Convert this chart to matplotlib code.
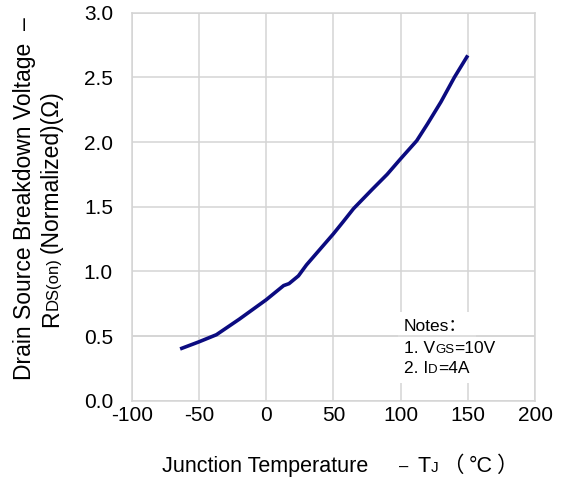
import matplotlib
matplotlib.use("Agg")
import matplotlib.pyplot as plt
from matplotlib.patches import Rectangle
from matplotlib.transforms import IdentityTransform

# readings from the curve (Tj in degC, normalised Rds(on))
temp_c = [-64, -50, -37, -20, 0, 13, 17, 24, 30, 40, 50, 57, 65, 79, 90, 100,
          112, 120, 130, 140, 150]
rds_norm = [0.40, 0.455, 0.51, 0.63, 0.78, 0.89, 0.905, 0.965, 1.05, 1.17, 1.29,
            1.38, 1.485, 1.635, 1.75, 1.87, 2.01, 2.14, 2.31, 2.50, 2.67]

x_ticks = [-100, -50, 0, 50, 100, 150, 200]
y_ticks = [0.0, 0.5, 1.0, 1.5, 2.0, 2.5, 3.0]

FONT = ["Liberation Sans", "Noto Sans CJK SC", "DejaVu Sans"]
GRID = "#d4d4d4"
LINE = "#0b0b80"

plt.rcParams["font.family"] = FONT

fig = plt.figure(figsize=(5.61, 4.79), dpi=100)
ax = fig.add_axes([0.2348, 0.1635, 0.9537 - 0.2348, 0.9735 - 0.1635])

ax.plot(temp_c, rds_norm, color=LINE, lw=2.6, solid_capstyle="butt",
        solid_joinstyle="round", zorder=4)

ax.set_xlim(-100, 200)
ax.set_ylim(0, 3.0)
ax.set_xticks(x_ticks)
ax.set_yticks(y_ticks)
ax.set_xticklabels([str(v) for v in x_ticks])
ax.set_yticklabels(["%.1f" % v for v in y_ticks])
ax.tick_params(axis="both", length=0, labelsize=15)
ax.tick_params(axis="y", pad=13.5)
ax.tick_params(axis="x", pad=4)
ax.grid(True, color=GRID, lw=1.1, zorder=0)
ax.set_axisbelow(True)
for sp in ax.spines.values():
    sp.set_color(GRID)
    sp.set_linewidth(1.1)

# notes box covers the grid, the 0.5 line still runs through it
ax.add_patch(Rectangle((98, 0.137), 58, 0.549, facecolor="white",
                       edgecolor="none", zorder=1))
ax.axhline(0.5, color=GRID, lw=1.1, zorder=2)

fig.canvas.draw()
renderer = fig.canvas.get_renderer()


def draw_pieces(x, y, pieces, rotation=0):
    # pieces: (text, size, gap_after_px); x, y in pixels from bottom-left
    pos = 0.0
    for s, size, gap in pieces:
        if rotation == 0:
            t = fig.text(x + pos, y, s, fontsize=size, ha="left", va="baseline",
                         transform=IdentityTransform())
            pos += t.get_window_extent(renderer).width + gap
        else:
            t = fig.text(x, y + pos, s, fontsize=size, ha="left", va="baseline",
                         rotation=90, rotation_mode="anchor",
                         transform=IdentityTransform())
            pos += t.get_window_extent(renderer).height + gap


# y label, two lines
draw_pieces(30.7, 99, [("Drain Source Breakdown Voltage  \u2013", 16.5, 0)], rotation=90)
draw_pieces(58, 152, [("R", 16.5, 0), ("DS(on)", 12, 5),
                      ("(Normalized)(\u03a9)", 16.5, 0)], rotation=90)

# x label
draw_pieces(161.7, 7.3, [("Junction Temperature", 15.5, 31), ("\u2013", 12, 9),
                         ("T", 15.5, 0), ("J", 11, 4),
                         ("\uff08", 15.5, 5), ("\u00b0C", 15.5, 4),
                         ("\uff09", 15.5, 0)])

# notes
draw_pieces(404, 148.3, [("Notes\uff1a", 12.5, 0)])
draw_pieces(404, 125.7, [("1. V", 12.5, 0), ("GS", 9.5, 0), ("=10V", 12.5, 0)])
draw_pieces(404, 105.7, [("2. I", 12.5, 0), ("D", 9.5, 0), ("=4A", 12.5, 0)])

fig.savefig("out.png", dpi=100)
